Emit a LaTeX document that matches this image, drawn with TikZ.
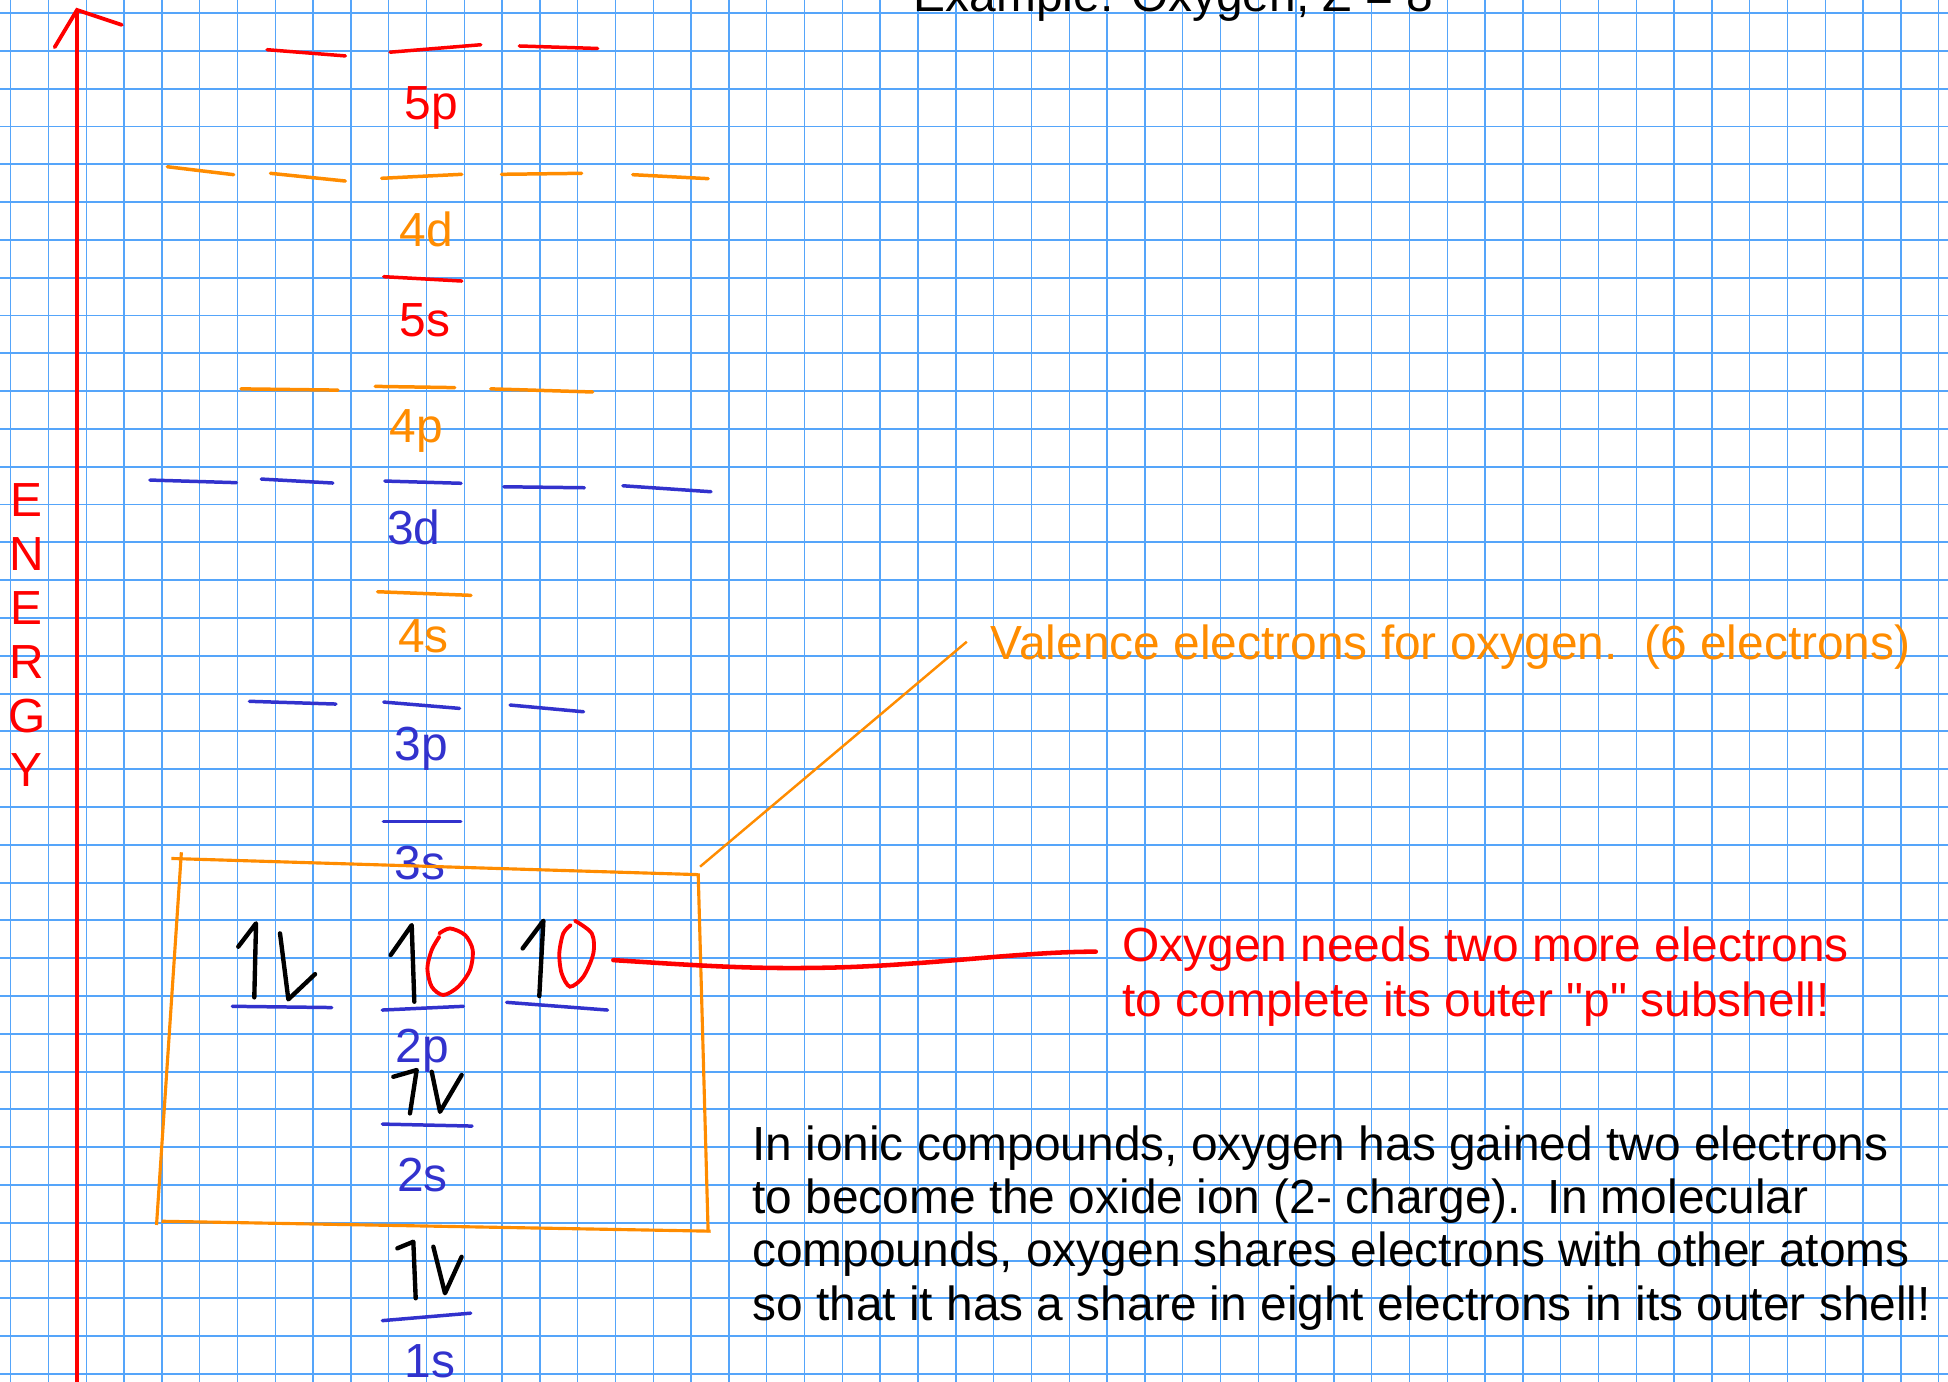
\documentclass[tikz,border=0pt]{standalone}
\usepackage{fontspec}
\setmainfont{Liberation Sans}[Ligatures=TeXOff]
\definecolor{gridblue}{RGB}{85,165,250}
\definecolor{lvlblue}{RGB}{50,50,205}
\definecolor{lvlorange}{RGB}{255,140,0}
\begin{document}
\begin{tikzpicture}[x=0.0125cm, y=-0.0125cm,
    txt/.style={inner sep=0pt, font=\fontsize{13.7}{15.3}\selectfont},
    lvl/.style={line width=1pt, line cap=round},
    elec/.style={line width=1.25pt, line cap=round, line join=round},
    slot/.style={red, line width=1.1pt, line cap=round},
    boxline/.style={lvlorange, line width=0.9pt}]
  \useasboundingbox (0,0) rectangle (1568,1112);
  % graph paper
  \foreach \i in {0,...,51}
    \draw[gridblue, line width=0.4pt] ({8.6+30.43*\i},0) -- ({8.6+30.43*\i},1112);
  \foreach \j in {0,...,36}
    \draw[gridblue, line width=0.55pt] (0,{10.5+30.43*\j}) -- (1568,{10.5+30.43*\j});
  % title, cut off by the top edge
  \node[txt, anchor=base west] (title) at (735,9.5) {Example: Oxygen, Z = 8};
  % energy axis
  \coordinate (axtop) at (62,8);
  \draw[red, line width=1.1pt] (62,1112) -- (axtop);
  \draw[red, line width=1.1pt, line cap=round] (44,38) -- (axtop) -- (98,20);
  \foreach \l [count=\i from 0] in {E,N,E,R,G,Y}
    \node[txt, red, anchor=base] (en\i) at (21.7,{415.8+43.5*\i}) {\l};
  % levels, lowest energy at the bottom
  \draw[lvl, red] (215,40) -- (278,45) (314,42) -- (387,36) (418,37) -- (481,39);
  \node[txt, red, anchor=base] (l5p) at (347,96) {5p};
  \draw[lvl, lvlorange] (134.7,134.2) -- (188.1,140.6) (217.7,139.5) -- (278,145.7)
    (307.2,143.5) -- (371.7,140.3) (403.7,140.3) -- (468.2,139.5) (509.3,140.6) -- (570,143.8);
  \node[txt, lvlorange, anchor=base] (l4d) at (343,198) {4d};
  \draw[lvl, red] (308.9,222.7) -- (371.7,226.2);
  \node[txt, red, anchor=base] (l5s) at (342,271) {5s};
  \draw[lvl, lvlorange] (194,313) -- (272,314) (302,311) -- (366,312) (395,313) -- (477,315.5);
  \node[txt, lvlorange, anchor=base] (l4p) at (335,356) {4p};
  \draw[lvl, lvlblue] (120.7,386.4) -- (190.3,388.5) (210.3,385.6) -- (267.9,388.8) (309.8,387.2) -- (371.1,389)
    (405.6,391.8) -- (470.3,392.6) (501.4,391) -- (572.3,395.8);
  \node[txt, lvlblue, anchor=base] (l3d) at (333,438) {3d};
  \draw[lvl, lvlorange] (304,476.3) -- (379.1,479.2);
  \node[txt, lvlorange, anchor=base] (l4s) at (341,525) {4s};
  \draw[lvl, lvlblue] (200.8,564.5) -- (270.4,566.7) (308.9,565.1) -- (369.9,570.2) (410.6,567.5) -- (469.7,572.9);
  \node[txt, lvlblue, anchor=base] (l3p) at (339,612.5) {3p};
  \draw[lvl, lvlblue] (308.6,661.4) -- (370.9,661.4);
  \node[txt, lvlblue, anchor=base] (l3s) at (338,708) {3s};
  \draw[lvl, lvlblue] (187,810) -- (267,811) (307.7,813) -- (373,810) (407.8,806.8) -- (489,813);
  \node[txt, lvlblue, anchor=base] (l2p) at (340,855) {2p};
  \draw[lvl, lvlblue] (307.8,904.8) -- (380,906.4);
  \node[txt, lvlblue, anchor=base] (l2s) at (340,959) {2s};
  \draw[lvl, lvlblue] (307.8,1063) -- (378.9,1057);
  \node[txt, lvlblue, anchor=base] (l1s) at (346,1109) {1s};
  % electrons
  \draw[elec] (191.8,762) -- (206.1,743.2) -- (204.7,802.8);
  \draw[elec] (225.4,751.3) -- (232.1,804.4) -- (253.6,784.1);
  \draw[elec] (314.5,768.7) -- (331.4,744.6) -- (333.5,806.3);
  \draw[elec] (420.7,763.4) -- (437.4,741.1) -- (434.1,801.8);
  \draw[elec] (316.6,866.7) -- (335.4,861.3) -- (330,896.2);
  \draw[elec] (347.5,862.7) -- (354.2,894.9) -- (371.6,865.3);
  \draw[elec] (319.8,1004.8) -- (332.7,999.5) -- (334.6,1045);
  \draw[elec] (348.8,1003.5) -- (358.2,1041) -- (371.6,1011.6);
  % the two empty places
  \draw[slot] plot[smooth] coordinates {(353.6,751.3) (362.2,747.3) (374.3,752.6) (380.5,764.7)
    (378.3,780.8) (368.9,794.2) (356.8,800.9) (347.5,794.2) (344,779.5) (347.5,764.7) (353.6,754)};
  \draw[slot] plot[smooth] coordinates {(462.8,741.1) (476.3,751.3) (477.6,767.4) (469.5,786.2)
    (458.8,794.2) (452.1,783.5) (450.2,767.4) (453.4,751.3) (459.4,744.6)};
  % valence box
  \draw[boxline] (146,686) -- (126,986);
  \draw[boxline] (138,691) -- (562,704);
  \draw[boxline] (562,703) -- (570,992);
  \draw[boxline] (130,983) -- (572,991);
  \coordinate (boxNE) at (563.5,697.6);
  \coordinate (valtip) at (778.2,516.5);
  \draw[lvlorange, line width=0.7pt] (boxNE) -- (valtip);
  \node[txt, lvlorange, anchor=base west] (valence) at (797,531)
    {Valence electrons for oxygen.\ \ (6 electrons)};
  % what is missing
  \coordinate (slotend) at (493.7,772.8);
  \coordinate (needtip) at (882,766);
  \draw[slot, line width=1.3pt] (slotend) .. controls (560,777) and (600,780) .. (660,779)
    .. controls (740,778) and (820,766) .. (needtip);
  \node[txt, red, anchor=base west, align=left, font=\fontsize{13.7}{15.65}\selectfont] (needs) at (903,818)
    {Oxygen needs two more electrons\\to complete its outer "p" subshell!};
  \node[txt, anchor=base west, align=left, font=\fontsize{13.7}{15.26}\selectfont] (ionic) at (605,1062.5)
    {In ionic compounds, oxygen has gained two electrons\\to become the oxide ion (2- charge).\ \ In molecular\\compounds, oxygen shares electrons with other atoms\\so that it has a share in eight electrons in its outer shell!};
\end{tikzpicture}
\end{document}
